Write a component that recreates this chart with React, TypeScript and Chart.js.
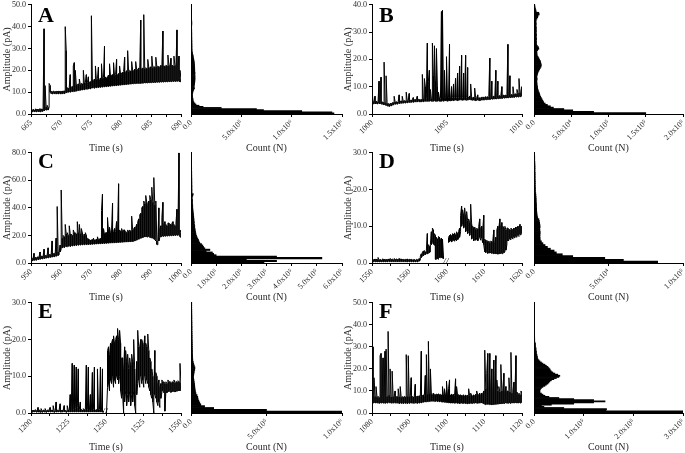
import { useEffect, useRef } from 'react';
import { Chart, registerables } from 'chart.js';

Chart.register(...registerables);

const SERIF = "'Liberation Serif', 'Times New Roman', serif";

// Each trace is stored as a lower and an upper envelope per sampled time step
// (the recorded current swings between them within each step).

// ---------------- Panel A ----------------
const A_TIME_LABELS = ['665', '670', '675', '680', '685', '690'];
const A_LOW = [
  1.0, 1.1, 1.0, 1.2, 1.0, 1.1, 1.0, 1.2, 1.1, 1.0,
  1.1, 1.2, 1.3, 1.5, 1.8, 1.8, 1.9, 1.8, 3.0, 10.0,
  9.3, 9.2, 9.3, 9.4, 9.2, 9.3, 9.3, 9.2, 9.4, 9.3,
  9.2, 9.3, 9.4, 9.3, 9.5, 9.8, 9.8, 10.0, 10.1, 10.0,
  10.2, 10.3, 10.2, 10.4, 10.3, 10.5, 10.6, 10.8, 10.7, 10.9,
  11.0, 11.0, 11.2, 11.1, 11.3, 11.4, 11.3, 11.5, 11.6, 11.5,
  11.8, 11.9, 12.0, 11.8, 12.1, 12.0, 12.2, 12.1, 12.3, 12.2,
  12.4, 12.3, 12.5, 12.4, 12.6, 12.5, 12.7, 12.6, 12.8, 12.7,
  12.9, 12.8, 13.0, 12.9, 13.1, 13.0, 13.2, 13.1, 13.3, 13.2,
  13.4, 13.3, 13.5, 13.4, 13.6, 13.5, 13.7, 13.6, 13.8, 13.7,
  13.8, 13.9, 13.8, 14.0, 13.9, 14.0, 14.1, 14.0, 14.1, 14.0,
  14.2, 14.1, 14.2, 14.3, 14.2, 14.3, 14.2, 14.4, 14.3, 14.4,
  14.3, 14.5, 14.4, 14.5, 14.4, 14.6, 14.5, 14.6, 14.5, 14.7,
  14.6, 14.7, 14.6, 14.8, 14.7, 14.8, 14.7, 14.9, 14.8, 14.9,
  14.8, 15.0, 14.9, 15.0, 14.9, 15.0, 15.1, 15.0, 14.8, 14.6,
];
const A_HIGH = [
  2.0, 1.9, 2.2, 1.8, 2.1, 2.3, 1.9, 2.2, 2.0, 2.4,
  2.1, 2.3, 3.5, 39, 13, 3.2, 4.0, 3.0, 14, 13,
  10.4, 10.2, 10.5, 10.3, 10.1, 10.4, 10.2, 10.5, 10.3, 10.4,
  10.2, 10.5, 10.3, 10.6, 40, 29, 12, 11.8, 12.4, 18,
  12.2, 12.6, 22, 23.5, 20, 13.5, 13.2, 13.8, 16, 13.5,
  14, 13.8, 20, 14.2, 14.5, 18, 14.3, 17, 14.6, 14.8,
  45, 15.5, 15.2, 16, 22, 15.6, 16.2, 21.5, 15.8, 16.5,
  23, 16.2, 16.8, 31, 17, 16.5, 17.2, 17.8, 23, 17.4,
  17.8, 18, 23.5, 17.6, 18.2, 25, 18, 18.5, 22, 18.2,
  18.8, 19, 19.5, 26, 19.2, 19.8, 29, 19.4, 20, 19.6,
  24, 20, 19.8, 20.5, 24, 20.2, 20.6, 21, 20.4, 43,
  20.8, 21, 45.5, 20.6, 21.2, 20.8, 25, 21.4, 21, 21.6,
  26.5, 21.2, 21.8, 21.4, 26, 21.6, 22, 21.4, 21.8, 22.2,
  21.6, 38, 22, 21.8, 22.4, 22, 27, 22.2, 21.8, 25.5,
  22.4, 22, 26.5, 22.2, 21.8, 38.5, 22, 26.5, 20, 16,
];
const A_AMP_MAX = 50;
const A_AMP_STEP = 10;
const A_HIST_BIN = 0.5;
const A_HIST_COUNTS = [
  1420000, 1400000, 1100000, 720000, 650000, 300000, 120000, 80000, 50000, 40000,
  30000, 25000, 20000, 20000, 18000, 16000, 15000, 15000, 16000, 18000,
  20000, 25000, 30000, 35000,
  30000, 32000, 34000, 36000, 37000, 38000, 39000, 40000, 40000, 39000, 40000, 38000, 39000, 40000, 38000, 37000,
  38000, 36000, 37000, 35000, 36000, 34000, 33000, 32000, 30000, 28000, 26000, 24000, 22000, 20000, 17000, 15000,
  12000, 11000, 11000, 10000, 10000, 10000, 9500, 9500, 9000, 9000, 9000, 8500, 8500, 8500, 8000, 8000, 8000, 8000, 7500, 7500,
  7500, 7000, 7000, 7000, 7500, 8000, 8500, 8000, 7500, 7000, 6500, 6500, 6000, 6000, 6000, 5500, 5500, 5000, 5000, 5000,
  4500, 4500, 4000, 4000,
];
const A_COUNT_MAX = 1500000;
const A_COUNT_STEP = 500000;
const A_COUNT_LABELS = ['0.0', '5.0x10⁵', '1.0x10⁶', '1.5x10⁶'];

// ---------------- Panel B ----------------
const B_TIME_LABELS = ['1000', '1005', '1010'];
const B_LOW = [
  4.0, 3.8, 3.7, 3.8, 3.9, 3.7, 3.8, 3.9, 3.8, 3.7,
  3.6, 3.5, 3.4, 3.3, 3.2, 3.0, 2.9, 2.8, 2.9, 3.0,
  3.1, 3.3, 3.5, 3.6, 3.7, 3.6, 3.8, 3.9, 3.8, 4.0,
  3.9, 4.0, 4.1, 4.0, 4.2, 4.1, 4.2, 4.3, 4.2, 4.3,
  4.4, 4.3, 4.4, 4.5, 4.4, 4.5, 4.6, 4.5, 4.4, 4.5,
  4.6, 4.5, 4.6, 4.7, 4.6, 4.7, 4.6, 4.7, 4.8, 4.7,
  4.6, 4.7, 4.8, 4.7, 4.6, 4.7, 4.8, 4.7, 4.6, 4.7,
  4.8, 4.7, 4.8, 4.9, 4.8, 4.7, 4.8, 4.9, 4.8, 4.9,
  5.0, 4.9, 5.0, 5.1, 5.0, 4.9, 5.0, 5.1, 5.2, 5.1,
  5.0, 5.1, 5.2, 5.1, 5.0, 5.1, 5.2, 5.3, 5.2, 5.1,
  5.0, 5.1, 5.0, 4.9, 5.0, 5.1, 5.0, 4.9, 5.0, 5.1,
  5.2, 5.1, 5.2, 5.3, 5.2, 5.3, 5.4, 5.3, 5.4, 5.5,
  5.4, 5.5, 5.6, 5.5, 5.6, 5.7, 5.6, 5.7, 5.8, 5.7,
  5.8, 5.9, 5.8, 5.9, 6.0, 5.9, 6.0, 6.1, 6.0, 6.1,
  6.2, 6.1, 6.2, 6.3, 6.2, 6.3, 6.2, 6.4, 6.3, 6.5,
];
const B_HIGH = [
  8.8, 4.6, 4.5, 6.5, 4.7, 4.5, 4.6, 12, 4.6, 13.5,
  4.4, 4.3, 19, 4.2, 14, 3.9, 3.8, 3.7, 3.8, 3.9,
  4.0, 4.2, 6.5, 4.4, 4.5, 4.4, 4.6, 7.0, 4.6, 4.8,
  6.5, 4.8, 4.9, 4.8, 8.0, 4.9, 5.0, 7.5, 5.0, 5.1,
  5.2, 6.0, 5.2, 5.3, 5.2, 6.5, 5.4, 5.3, 5.2, 5.3,
  14.5, 5.5, 13, 10, 5.6, 26, 12, 16, 9, 5.6,
  26, 14, 25, 12, 24, 10, 8, 5.8, 5.7, 37.5,
  38, 5.8, 16, 5.9, 21, 5.8, 5.9, 25.5, 5.9, 10,
  6.0, 11, 6.0, 13, 6.1, 15, 6.0, 17.5, 6.2, 21.5,
  6.0, 15, 6.2, 21.5, 6.0, 17, 6.2, 6.5, 11, 6.1,
  6.0, 6.1, 9.5, 5.9, 6.0, 7, 6.0, 5.9, 6.0, 6.1,
  6.2, 6.1, 6.2, 6.3, 6.2, 6.3, 6.4, 20.5, 6.4, 12,
  6.4, 6.5, 6.6, 16, 6.6, 12, 6.6, 6.7, 6.8, 10,
  6.8, 6.9, 6.8, 6.9, 7.0, 25.5, 7.0, 14, 7.0, 7.1,
  10, 7.2, 7.4, 7.3, 9, 7.6, 13, 7.8, 8.5, 10,
];
const B_AMP_MAX = 40;
const B_AMP_STEP = 10;
const B_HIST_BIN = 0.5;
const B_HIST_COUNTS = [
  150000, 80000, 52000, 40000, 26000, 22000, 18000, 15000, 13000, 12000, 11000, 10000, 9000, 8000, 7500, 7000, 6000, 5500,
  5000, 4800, 4500, 4200, 4000, 3800, 4000, 4200, 4000, 3800, 4500, 5000,
  5500, 6500, 7500, 8500, 9500, 9800, 9500, 9000, 8500, 7500, 6500, 5500,
  4500, 4000, 4000, 3800,
  5000, 6500, 6000, 4500,
  3500, 3300, 3400, 3200, 3500, 3300, 3100, 3400, 3200, 3000, 3300, 3100, 3200, 3000, 2800, 3000, 2900, 2700,
  3000, 4000, 5000, 5500,
  7000, 6500,
  3000, 2500, 2000, 1500, 1200, 1000,
];
const B_COUNT_MAX = 200000;
const B_COUNT_STEP = 50000;
const B_COUNT_LABELS = ['0.0', '5.0x10⁴', '1.0x10⁵', '1.5x10⁵', '2.0x10⁵'];

// ---------------- Panel C ----------------
const C_TIME_LABELS = ['950', '960', '970', '980', '990', '1000'];
const C_LOW = [
  1.5, 1.8, 1.6, 2.0, 2.2, 2.0, 2.4, 2.6, 2.5, 2.8,
  3.0, 2.9, 3.2, 3.4, 3.3, 3.6, 3.8, 3.7, 4.0, 4.2,
  4.1, 4.4, 4.6, 4.5, 4.8, 5.0, 5.2, 5.5, 6.0, 8.0,
  10, 11, 11.5, 11.2, 11.8, 12, 11.6, 12.2, 12.4, 12.0,
  12.6, 12.3, 12.8, 12.5, 13.0, 12.7, 13.2, 12.9, 13.3, 13.0,
  13.4, 13.1, 13.5, 13.2, 13.6, 13.3, 13.5, 13.4, 13.6, 13.5,
  13.7, 13.6, 13.8, 13.7, 13.9, 13.8, 14.0, 13.9, 14.1, 14.0,
  14.2, 14.1, 14.3, 14.2, 14.4, 14.3, 14.5, 14.4, 14.6, 14.5,
  14.7, 14.6, 14.8, 14.7, 14.9, 14.8, 15.0, 14.9, 15.1, 15.0,
  15.2, 15.1, 15.3, 15.2, 15.4, 15.3, 15.5, 15.4, 15.6, 15.5,
  15.7, 15.6, 15.8, 16.0, 16.3, 16.6, 17.0, 17.3, 17.6, 18.0,
  18.2, 18.5, 18.8, 19.0, 19.2, 19.0, 18.8, 19.2, 18.6, 18.4,
  18.2, 18.0, 17.5, 17.0, 16.0, 13.5, 13.2, 16.0, 18.5, 19.0,
  19.2, 19.5, 19.3, 19.6, 19.4, 19.8, 19.5, 19.9, 19.6, 20.0,
  19.7, 20.1, 19.8, 20.2, 19.9, 20.3, 20.0, 20.4, 19.0, 18.5,
];
const C_HIGH = [
  3.0, 3.5, 3.2, 7.0, 3.8, 4.0, 3.9, 4.5, 4.4, 8.0,
  4.8, 5.0, 4.9, 10, 5.2, 5.5, 5.6, 11, 5.9, 6.2,
  6.0, 16, 6.5, 7.0, 6.8, 18, 41, 8.0, 8.0, 13,
  53, 18, 20, 19, 28, 21, 22, 20, 27, 21,
  21, 20, 24, 22, 22, 21, 30, 22, 28, 21,
  25, 22, 20, 21, 22, 20, 18, 17.5, 17, 16.5,
  16.8, 17, 18, 16.5, 16.8, 17.2, 19, 17, 17.5, 17.8,
  38, 50, 25, 21, 22, 22, 33, 23, 26, 22,
  24, 43.5, 23, 25, 23, 30, 24, 57.5, 24, 23,
  25, 23, 24, 24, 23, 22, 24, 23, 24, 23,
  34, 24, 25, 26, 26, 28, 30, 32, 35, 36,
  40, 41, 45, 43, 49, 44, 42, 45, 49, 46,
  55, 44, 62, 42, 45, 16, 16, 40, 25, 27,
  33, 44, 28, 30, 28, 27, 29, 29, 28, 28,
  29, 30, 28, 27, 29, 39, 28, 80, 24, 22,
];
const C_AMP_MAX = 80;
const C_AMP_STEP = 20;
const C_HIST_BIN = 1;
const C_HIST_COUNTS = [
  290000, 340000, 220000, 520000, 340000, 100000, 90000, 85000, 60000, 75000,
  55000, 50000, 47000, 42000, 35000, 32000, 30000, 27000, 24000, 22000, 20000, 19000, 18000, 17000,
  16000, 15000, 15000, 14000, 13000, 13000, 12000, 12000, 11000, 11000, 10000, 10000, 9000,
  8000, 8000, 7000, 7000, 7000, 6000, 6000, 6000, 6000, 5000, 5000, 7000, 9000,
  4000, 4000, 4000, 3800, 3800, 3600, 3600, 3500, 3500, 3400, 3400, 3200, 3200, 3000, 3000,
  3000, 2800, 2800, 2800, 2600, 2600, 2500, 2500, 2400, 2400, 2300, 2200, 2200, 2100, 2000,
];
const C_COUNT_MAX = 600000;
const C_COUNT_STEP = 100000;
const C_COUNT_LABELS = ['0.0', '1.0x10⁵', '2.0x10⁵', '3.0x10⁵', '4.0x10⁵', '5.0x10⁵', '6.0x10⁵'];

// ---------------- Panel D ----------------
const D_TIME_LABELS = ['1550', '1560', '1600', '1610', '1620'];
const D_LOW = [
  0.3, 0.4, 0.3, 0.4, 0.3, 0.3, 0.4, 0.3, 0.4, 0.3,
  0.4, 0.3, 0.4, 0.3, 0.4, 0.3, 0.4, 0.4, 0.3, 0.4,
  0.3, 0.4, 0.3, 0.4, 0.3, 0.4, 0.3, 0.4, 0.3, 0.4,
  0.3, 0.4, 0.3, 0.4, 0.3, 0.3, 0.4, 0.3, 0.4, 0.3,
  0.4, 0.3, 0.4, 0.3, 0.4, 0.3, 0.4, 0.5, 0.8, 1.5,
  1.8, 2.0, 2.2, 2.3, 2.5, 2.5, 2.6, 2.8, 3.0, 5.0,
  5.5, 5.2, 4.8, 1.0, 1.0, 1.2, 1.0, 1.5, 1.4, 1.5,
  1.3, 1.2, null, null, null, null, 5.5, 5.8, 6.0, 5.7,
  6.0, 6.2, 5.9, 6.3, 6.0, 6.4, 6.5, 7.0, 8.5, 10.0,
  10.5, 9.5, 10.0, 8.5, 9.0, 8.0, 8.5, 7.5, 8.0, 6.5,
  7.0, 6.0, 6.5, 6.2, 6.8, 6.0, 6.5, 7.0, 6.2, 6.8,
  5.5, 5.0, 3.0, 2.8, 3.2, 2.6, 3.0, 2.7, 2.9, 2.6,
  2.8, 2.5, 2.7, 2.5, 2.6, 2.4, 2.6, 2.5, 2.7, 2.6,
  2.5, 2.8, 3.0, 3.5, 5.0, 6.0, 6.2, 6.5, 6.3, 6.8,
  6.5, 7.0, 6.8, 7.2, 7.0, 7.5, 7.2, 7.8, 7.6, 8.0,
];
const D_HIGH = [
  0.9, 1.0, 0.8, 1.1, 0.9, 1.0, 1.5, 0.9, 1.0, 0.8,
  1.0, 1.1, 0.9, 1.0, 0.8, 1.0, 0.9, 1.1, 1.2, 1.0,
  1.1, 0.9, 1.2, 1.0, 1.1, 1.0, 0.9, 1.2, 1.0, 1.1,
  0.9, 1.0, 0.8, 1.0, 0.9, 1.1, 0.8, 1.0, 0.9, 1.0,
  0.8, 0.9, 1.0, 0.8, 1.0, 0.9, 1.0, 1.2, 1.8, 2.5,
  3.0, 3.2, 3.4, 3.0, 3.5, 8.0, 5.0, 4.5, 5.0, 8.5,
  9.5, 9.0, 8.0, 7.5, 7.0, 6.5, 7.2, 7.0, 6.5, 6.8,
  6.5, 2.0, null, null, null, null, 7.0, 7.5, 7.8, 7.4,
  8.0, 7.8, 8.2, 7.6, 8.5, 8.0, 8.6, 9.5, 13, 15.5,
  14.5, 13, 15, 12.5, 14, 11.5, 12, 11, 16, 10.5,
  10, 9.5, 9.8, 9.0, 9.5, 9.2, 10, 12, 9.5, 10,
  9, 13, 6.5, 6.0, 6.2, 5.8, 6.0, 5.5, 6.0, 5.8,
  6.0, 9, 5.5, 7, 9, 10, 9.5, 12, 10, 11,
  10, 9.5, 10, 9, 9.5, 9.5, 9.2, 9, 9.5, 9.2,
  9.0, 9.5, 9.2, 9.8, 9.5, 10, 9.8, 10.5, 10, 9.8,
];
const D_AMP_MAX = 30;
const D_AMP_STEP = 10;
const D_BREAK_AT = 1.97;
const D_HIST_BIN = 0.5;
const D_HIST_COUNTS = [
  83000, 60000, 47500, 26000, 19000, 15000, 13500, 11000, 9000, 7400, 6000, 5000,
  4200, 4100, 4000, 4100, 4200, 4000, 3900, 4100, 4000, 3800, 3600, 3300,
  2500, 2200, 2000, 1900, 1800, 1800, 1700, 1700, 1600, 1500, 1500, 1400, 1300, 1200,
  1000, 1000, 1000, 900, 900, 900, 900, 800, 800, 800, 800, 700, 700, 700, 700,
  600, 600, 500, 500, 500, 400, 400,
];
const D_COUNT_MAX = 100000;
const D_COUNT_STEP = 50000;
const D_COUNT_LABELS = ['0.0', '5.0x10⁴', '1.0x10⁵'];

// ---------------- Panel E ----------------
const E_TIME_LABELS = ['1200', '1225', '1250', '1525', '1550'];
const E_LOW = [
  0.3, 0.3, 0.2, 0.3, 0.4, 0.3, 0.2, 0.3, 0.3, 0.2,
  0.3, 0.2, 0.3, 0.3, 0.3, 0.2, 0.3, 0.3, 0.4, 0.3,
  0.3, 0.3, 0.4, 0.2, 0.3, 0.3, 0.3, 0.3, 0.4, 0.3,
  0.2, 0.3, 0.3, 0.4, 0.3, 0.2, 0.3, 0.3, 0.3, 0.3,
  0.3, 0.3, 0.3, 0.3, 0.3, 0.3, 0.3, 0.3, 0.3, 0.3,
  0.3, 0.3, 0.3, 0.3, 0.3, 0.3, 0.3, 0.3, 0.3, 0.3,
  0.3, 0.3, 0.3, 0.3, 0.3, 0.3, 0.3, 0.3, 0.3, 0.3,
  0.3, 0.3, 0.2, null, null, 0, 7, 8, 6, 9,
  8, 10, 7, 9, 8, 10, 9, 8, 10, 6,
  4, 5, 0, 3, 6, 2, 5, 3, 6, 2,
  5, 3, 6, 2, 0, 5, 8, 9, 7, 10,
  8, 9, 7, 10, 8, 9, 8, 7, 6, 5,
  4, 3, 0, 5, 4, 3, 2, 3, 1.5, 4,
  5.5, 6, 5.5, 0.5, 6, 5.5, 6, 5.8, 6.2, 5.6,
  6, 5.8, 6.2, 5.7, 6, 5.9, 6.2, 6, 6.5, 6,
];
const E_HIGH = [
  0.7, 0.8, 0.6, 0.7, 0.9, 0.7, 0.6, 1.5, 0.8, 0.7,
  1.2, 0.6, 0.8, 0.7, 1.2, 0.6, 0.8, 0.7, 1.0, 1.5,
  0.7, 0.8, 2.0, 0.6, 0.7, 3.0, 0.8, 0.7, 1.0, 2.5,
  0.6, 0.8, 0.7, 2.0, 0.7, 0.6, 2.0, 0.8, 0.7, 5.0,
  0.8, 13.5, 1.0, 13, 1.2, 12.5, 1.5, 12, 1.0, 3.0,
  1.0, 0.8, 1.2, 0.9, 1.0, 13, 0.9, 12.5, 0.8, 5,
  0.8, 11, 0.9, 12.5, 0.8, 0.9, 12, 0.8, 0.9, 12.5,
  0.8, 12, 0.5, null, null, 0, 17, 18, 16, 19,
  19, 20, 21, 19, 20, 21, 23, 20, 22.5, 19,
  15, 15, 12, 18, 17, 14, 16, 12, 15, 13,
  16, 14, 20, 12, 5, 14, 22.5, 18, 18, 20,
  20, 19, 18, 21, 19, 18, 21.5, 17, 15, 14,
  12, 10, 5, 17, 11, 10, 8, 9, 7, 8,
  9, 8.5, 8.5, 8, 8.5, 8, 9, 8.5, 8.6, 8.2,
  8.5, 8.4, 9, 8.2, 8.6, 8.4, 8.8, 8.5, 13.5, 8.2,
];
const E_AMP_MAX = 30;
const E_AMP_STEP = 10;
const E_BREAK_AT = 1.97;
const E_HIST_BIN = 0.5;
const E_HIST_COUNTS = [
  1000000, 500000, 150000, 90000, 65000, 58000, 52000, 47000, 45000, 40000,
  33000, 30000, 28000, 26000, 25000, 24000, 22000, 20000, 18000, 17000,
  18000, 20000, 22000, 25000, 26000, 22000, 18000, 15000,
  12000, 11500, 11000, 10500, 10000, 10000, 9500, 9500, 9000, 9000,
  8500, 8500, 8000, 8000, 7500, 7500, 7000, 7000, 7000, 6500,
  6500, 6500, 6000, 6000, 6000, 5500, 5500, 5500, 5000, 5000,
  5000, 5000,
];
const E_COUNT_MAX = 1000000;
const E_COUNT_STEP = 500000;
const E_COUNT_LABELS = ['0.0', '5.0x10⁵', '1.0x10⁶'];

// ---------------- Panel F ----------------
const F_TIME_LABELS = ['1080', '1090', '1100', '1110', '1120'];
const F_LOW = [
  5.0, 4.5, 4.8, 4.6, 4.7, 4.5, 4.8, 4.4, 4.6, 4.5,
  4.7, 4.5, 4.6, 4.4, 4.7, 4.5, 4.6, 4.8, 4.5, 4.6,
  4.4, 4.6, 4.5, 4.7, 4.4, 4.6, 4.5, 4.3, 4.6, 4.4,
  4.5, 4.3, 4.6, 4.4, 4.5, 4.3, 4.6, 4.4, 4.5, 4.6,
  4.4, 4.5, 4.3, 4.6, 4.5, 4.4, 4.6, 4.5, 4.7, 4.6,
  4.8, 4.9, 5.0, 5.1, 5.0, 5.2, 5.1, 5.3, 5.2, 5.4,
  5.3, 5.4, 5.2, 5.3, 5.4, 5.2, 5.3, 5.1, 5.2, 5.0,
  4.9, 5.0, 4.8, 4.9, 4.7, 4.8, 4.6, 4.7, 4.5, 4.6,
  4.5, 4.6, 4.4, 4.5, 4.6, 4.4, 4.5, 4.3, 4.4, 4.5,
  4.3, 4.4, 4.5, 4.3, 4.4, 4.2, 4.4, 4.3, 4.5, 4.4,
  4.3, 4.5, 4.4, 4.6, 4.5, 4.4, 4.6, 4.5, 4.7, 4.6,
  4.5, 4.2, 4.0, 3.8, 4.2, 3.9, 4.1, 3.8, 4.0, 3.7,
  4.0, 3.8, 4.1, 3.9, 4.2, 4.0, 4.3, 4.1, 4.4, 4.2,
  4.5, 4.3, 4.4, 4.6, 4.5, 4.4, 4.6, 4.5, 4.3, 4.6,
  4.7, 4.5, 4.8, 4.6, 4.7, 4.5, 4.8, 4.6, 4.5, 4.7,
];
const F_HIGH = [
  7, 30, 16, 7.5, 12, 7.2, 7.6, 7.0, 26, 27,
  7.4, 25, 7.2, 28, 29, 7.5, 37, 8, 20, 7.3,
  19, 7.4, 7.6, 10, 7.2, 7.5, 11, 7.3, 12, 7.1,
  7.4, 7.2, 7.6, 7.3, 26.5, 7.5, 26, 7.4, 7.8, 16,
  7.5, 7.3, 7.7, 13, 7.4, 7.6, 7.5, 7.8, 7.6, 28,
  7.9, 8.2, 8.0, 17, 26.5, 8.4, 32.5, 8.8, 20, 8.5,
  8.4, 9, 8.5, 8.3, 8.6, 8.4, 8.7, 8.3, 8.5, 8.2,
  12, 8.2, 11, 8.3, 14.5, 8.4, 11, 15, 8.2, 8.5,
  8.3, 8.4, 8.1, 15.5, 12, 8.2, 8.4, 8.0, 8.3, 7.9,
  8.0, 8.2, 7.8, 8.1, 7.9, 8.0, 11, 7.9, 9, 8.1,
  7.8, 8.2, 8.0, 8.4, 10, 8.1, 8.5, 9, 8.2, 9,
  8.6, 10, 28.5, 11, 18, 27, 10, 27, 12, 20,
  10, 24, 11, 26, 15, 10, 12, 9.5, 22, 10,
  11, 18, 9.5, 12, 9.8, 10, 16, 9.5, 27.5, 9,
  10, 14, 9.2, 26, 9.5, 8.5, 9, 8.2, 10, 8.8,
];
const F_AMP_MAX = 50;
const F_AMP_STEP = 10;
const F_HIST_BIN = 0.5;
const F_HIST_COUNTS = [
  300000, 300000, 145000, 146000, 60000, 20000, 15000, 35000, 80000, 120000,
  143000, 120000, 80000, 50000, 30000, 22000, 18000, 15000, 12000, 12000,
  12000, 13000, 15000, 18000, 22000, 25000, 28000, 30000, 32000, 35000,
  40000, 45000, 50000, 52000, 48000, 42000, 38000, 35000, 33000, 32000,
  30000, 28000, 25000, 22000, 18000, 15000, 12000, 10000,
  8000, 7000, 7000, 6000, 6000, 5000, 5000, 5000, 4000, 4000, 4000, 3000, 3000, 3000, 3000, 2000,
  1500, 1500, 1500, 1400, 1400, 1400, 1300, 1300, 1300, 1200, 1200, 1200, 1100, 1100, 1100, 1000, 1000, 1000,
  1000, 1000, 900, 900, 900, 900, 800, 800, 800, 800, 700, 700, 700, 700, 600, 600, 600, 600,
];
const F_COUNT_MAX = 300000;
const F_COUNT_STEP = 100000;
const F_COUNT_LABELS = ['0.0', '1.0x10⁵', '2.0x10⁵', '3.0x10⁵'];

// ---------------- panels ----------------
type PanelDef = {
  letter: string;
  timeLabels: string[];
  low: (number | null)[];
  high: (number | null)[];
  ampMax: number;
  ampStep: number;
  breakAt: number | null;
  bin: number;
  hist: number[];
  countMax: number;
  countStep: number;
  countLabels: string[];
};

const PANELS: PanelDef[] = [
  { letter: 'A', timeLabels: A_TIME_LABELS, low: A_LOW, high: A_HIGH, ampMax: A_AMP_MAX, ampStep: A_AMP_STEP, breakAt: null, bin: A_HIST_BIN, hist: A_HIST_COUNTS, countMax: A_COUNT_MAX, countStep: A_COUNT_STEP, countLabels: A_COUNT_LABELS },
  { letter: 'B', timeLabels: B_TIME_LABELS, low: B_LOW, high: B_HIGH, ampMax: B_AMP_MAX, ampStep: B_AMP_STEP, breakAt: null, bin: B_HIST_BIN, hist: B_HIST_COUNTS, countMax: B_COUNT_MAX, countStep: B_COUNT_STEP, countLabels: B_COUNT_LABELS },
  { letter: 'C', timeLabels: C_TIME_LABELS, low: C_LOW, high: C_HIGH, ampMax: C_AMP_MAX, ampStep: C_AMP_STEP, breakAt: null, bin: C_HIST_BIN, hist: C_HIST_COUNTS, countMax: C_COUNT_MAX, countStep: C_COUNT_STEP, countLabels: C_COUNT_LABELS },
  { letter: 'D', timeLabels: D_TIME_LABELS, low: D_LOW, high: D_HIGH, ampMax: D_AMP_MAX, ampStep: D_AMP_STEP, breakAt: D_BREAK_AT, bin: D_HIST_BIN, hist: D_HIST_COUNTS, countMax: D_COUNT_MAX, countStep: D_COUNT_STEP, countLabels: D_COUNT_LABELS },
  { letter: 'E', timeLabels: E_TIME_LABELS, low: E_LOW, high: E_HIGH, ampMax: E_AMP_MAX, ampStep: E_AMP_STEP, breakAt: E_BREAK_AT, bin: E_HIST_BIN, hist: E_HIST_COUNTS, countMax: E_COUNT_MAX, countStep: E_COUNT_STEP, countLabels: E_COUNT_LABELS },
  { letter: 'F', timeLabels: F_TIME_LABELS, low: F_LOW, high: F_HIGH, ampMax: F_AMP_MAX, ampStep: F_AMP_STEP, breakAt: null, bin: F_HIST_BIN, hist: F_HIST_COUNTS, countMax: F_COUNT_MAX, countStep: F_COUNT_STEP, countLabels: F_COUNT_LABELS },
];

// ---------------- layout ----------------
const COL_TRACE_LEFT = [31, 372];
const TRACE_WIDTH = 150;
const COL_HIST_LEFT = [191, 534];
const COL_HIST_WIDTH = [151, 149];
const ROW_TOP = [4, 152, 302];
const ROW_BOTTOM = [114, 263, 413];
const LETTER_LEFT = [38, 379];
const LETTER_TOP = [4, 150, 300];

const Y_AXIS_W = 31;
const HIST_Y_W = 12;
const X_AXIS_H = 41;
const PAD_TOP = 6;
const PAD_RIGHT = 14;

const TICK_FONT = { family: SERIF, size: 8 };
const TITLE_FONT = { family: SERIF, size: 10 };
const TEXT_COLOR = '#2a2a2a';

function axisLines() {
  return {
    grid: { display: true, drawOnChartArea: false, drawTicks: true, tickLength: 3, color: '#000', lineWidth: 1 },
    border: { display: true, color: '#000', width: 1 },
  };
}

// The trace line visits, at every time step, both envelope values
// (alternating order so neighbouring steps join along the edges).
function tracePoints(p: PanelDef) {
  const span = p.timeLabels.length - 1;
  const n = p.low.length;
  const pts: { x: number; y: number | null }[] = [];
  for (let i = 0; i < n; i++) {
    const x = (i * span) / (n - 1);
    const a = i % 2 === 0 ? p.low[i] : p.high[i];
    const b = i % 2 === 0 ? p.high[i] : p.low[i];
    pts.push({ x, y: a });
    pts.push({ x, y: b });
  }
  return pts;
}

function traceConfig(p: PanelDef): any {
  const span = p.timeLabels.length - 1;
  const breakPlugin = {
    id: 'breakMark',
    afterDraw(chart: any) {
      if (p.breakAt == null) return;
      const { ctx, chartArea } = chart;
      const px = chart.scales.x.getPixelForValue(p.breakAt);
      ctx.save();
      ctx.font = `italic 9px ${SERIF}`;
      ctx.fillStyle = '#000';
      ctx.textAlign = 'center';
      ctx.textBaseline = 'middle';
      ctx.fillText('//', px, chartArea.bottom - 1);
      ctx.restore();
    },
  };
  return {
    type: 'line',
    data: {
      datasets: [
        {
          data: tracePoints(p),
          borderColor: '#000',
          borderWidth: 1,
          pointRadius: 0,
          tension: 0,
          fill: false,
          spanGaps: false,
        },
      ],
    },
    options: {
      animation: false,
      responsive: false,
      maintainAspectRatio: false,
      events: [],
      layout: { padding: { top: PAD_TOP, right: PAD_RIGHT, left: 0, bottom: 0 } },
      plugins: { legend: { display: false }, tooltip: { enabled: false } },
      scales: {
        x: {
          type: 'linear',
          min: 0,
          max: span,
          afterFit: (s: any) => { s.height = X_AXIS_H; },
          ticks: {
            stepSize: 0.5,
            autoSkip: false,
            minRotation: 45,
            maxRotation: 45,
            padding: 1,
            font: TICK_FONT,
            color: TEXT_COLOR,
            callback: (v: number) => (Math.abs(v - Math.round(v)) < 1e-6 ? p.timeLabels[Math.round(v)] : ''),
          },
          title: { display: true, text: 'Time (s)', font: TITLE_FONT, color: TEXT_COLOR, padding: { top: 0, bottom: 1 } },
          ...axisLines(),
        },
        y: {
          type: 'linear',
          min: 0,
          max: p.ampMax,
          afterFit: (s: any) => { s.width = Y_AXIS_W; },
          ticks: {
            stepSize: p.ampStep,
            padding: 2,
            font: TICK_FONT,
            color: TEXT_COLOR,
            callback: (v: number) => Number(v).toFixed(1),
          },
          title: { display: true, text: 'Amplitude (pA)', font: TITLE_FONT, color: TEXT_COLOR, padding: { top: 1, bottom: 0 } },
          ...axisLines(),
        },
      },
    },
    plugins: [breakPlugin],
  };
}

function histConfig(p: PanelDef): any {
  const data = p.hist.map((c, i) => ({ x: c, y: i * p.bin + p.bin / 2 }));
  return {
    type: 'bar',
    data: {
      datasets: [
        {
          data,
          backgroundColor: '#000',
          borderWidth: 0,
          barPercentage: 1,
          categoryPercentage: 1,
        },
      ],
    },
    options: {
      indexAxis: 'y',
      animation: false,
      responsive: false,
      maintainAspectRatio: false,
      events: [],
      layout: { padding: { top: PAD_TOP, right: PAD_RIGHT, left: 0, bottom: 0 } },
      plugins: { legend: { display: false }, tooltip: { enabled: false } },
      scales: {
        x: {
          type: 'linear',
          min: 0,
          max: p.countMax,
          afterFit: (s: any) => { s.height = X_AXIS_H; },
          ticks: {
            stepSize: p.countStep,
            autoSkip: false,
            minRotation: 45,
            maxRotation: 45,
            padding: 1,
            font: TICK_FONT,
            color: TEXT_COLOR,
            callback: (v: number) => p.countLabels[Math.round(v / p.countStep)] ?? '',
          },
          title: { display: true, text: 'Count (N)', font: TITLE_FONT, color: TEXT_COLOR, padding: { top: 0, bottom: 1 } },
          ...axisLines(),
        },
        y: {
          type: 'linear',
          min: 0,
          max: p.ampMax,
          offset: false,
          afterFit: (s: any) => { s.width = HIST_Y_W; },
          ticks: { display: false, stepSize: p.ampStep },
          grid: { display: false, offset: false },
          border: { display: true, color: '#000', width: 1 },
        },
      },
    },
  };
}

function ChartCanvas({ make, left, top, width, height }: { make: () => any; left: number; top: number; width: number; height: number }) {
  const ref = useRef<HTMLCanvasElement>(null);
  useEffect(() => {
    const chart = new Chart(ref.current as HTMLCanvasElement, make());
    return () => chart.destroy();
  }, []);
  return (
    <canvas
      ref={ref}
      width={width}
      height={height}
      style={{ position: 'absolute', left, top, width, height }}
    />
  );
}

function Panel({ p, col, row }: { p: PanelDef; col: number; row: number }) {
  const top = ROW_TOP[row] - PAD_TOP;
  const h = PAD_TOP + (ROW_BOTTOM[row] - ROW_TOP[row]) + X_AXIS_H;
  return (
    <>
      <ChartCanvas
        make={() => traceConfig(p)}
        left={COL_TRACE_LEFT[col] - Y_AXIS_W}
        top={top}
        width={Y_AXIS_W + TRACE_WIDTH + PAD_RIGHT}
        height={h}
      />
      <ChartCanvas
        make={() => histConfig(p)}
        left={COL_HIST_LEFT[col] - HIST_Y_W}
        top={top}
        width={HIST_Y_W + COL_HIST_WIDTH[col] + PAD_RIGHT}
        height={h}
      />
      <div
        style={{
          position: 'absolute',
          left: LETTER_LEFT[col],
          top: LETTER_TOP[row],
          fontFamily: SERIF,
          fontWeight: 'bold',
          fontSize: 22,
          lineHeight: '22px',
          color: '#000',
        }}
      >
        {p.letter}
      </div>
    </>
  );
}

export default function App() {
  return (
    <div
      style={{
        position: 'absolute',
        left: 0,
        top: 0,
        width: 685,
        height: 453,
        overflow: 'hidden',
        background: '#fff',
      }}
    >
      {PANELS.map((p, k) => (
        <Panel key={p.letter} p={p} col={k % 2} row={Math.floor(k / 2)} />
      ))}
    </div>
  );
}
